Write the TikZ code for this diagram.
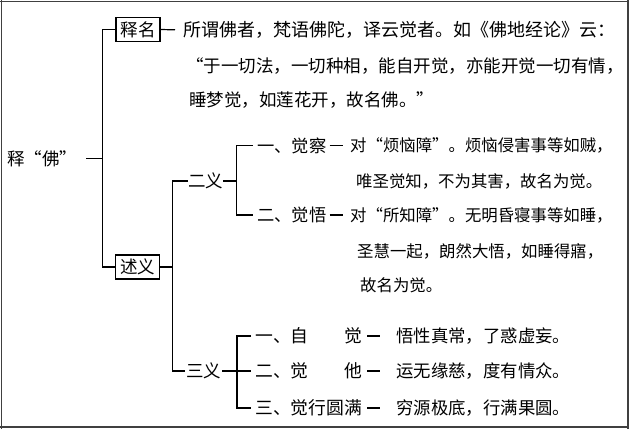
\documentclass[tikz,border=0pt]{standalone}
\usepackage{fontspec}
\newfontfamily\cjk{Noto Sans CJK SC}
\begin{document}
\begin{tikzpicture}[x=1pt,y=-1pt,
  txt/.style={font=\cjk\fontsize{17.5}{20}\selectfont, inner sep=0pt, anchor=west},
  bigtxt/.style={txt, font=\cjk\fontsize{18}{20}\selectfont},
  midtxt/.style={txt, font=\cjk\fontsize{16.4}{20}\selectfont},
  lowtxt/.style={txt, font=\cjk\fontsize{17.4}{20}\selectfont},
  lbl3/.style={txt, font=\cjk\fontsize{17.8}{20}\selectfont},
  boxed/.style={txt, anchor=center, draw, line width=1.1pt, minimum width=44pt, minimum height=24pt},
  br/.style={line width=1.2pt, black},
  frameline/.style={black!75}]
\useasboundingbox (0,0) rectangle (630,429);
% frame
\draw[frameline, line width=1pt] (0,1) -- (629,1);
\draw[frameline, line width=1pt] (1,0) -- (1,429);
\draw[frameline, line width=2.3pt] (627.8,0) -- (627.8,429);
\draw[frameline, line width=2.3pt] (0,427.2) -- (629,427.2);

% root
\node[txt] (fo) at (7,159) {释“佛”};
\coordinate (fd) at (86,158.5);
\coordinate (m1) at (102.8,30);

% level 1
\node[boxed] (shiming) at (138,29.5) {释名};
\node[boxed] (shuyi) at (137.5,267) {述义};
\draw[br] (fd) -- (fd -| m1);
\draw[br] (shiming.west) -- (shiming.west -| m1) -- (shuyi.west -| m1) -- (shuyi.west);

% 释名 text
\node[bigtxt] (r1) at (183,30) {所谓佛者，梵语佛陀，译云觉者。如《佛地经论》云：};
\node[txt] (r2) at (186,66) {“于一切法，一切种相，能自开觉，亦能开觉一切有情，};
\node[txt] (r3) at (189,100.5) {睡梦觉，如莲花开，故名佛。”};
\draw[br, shorten >=8pt] (shiming.east) -- (r1.west);

% level 2
\coordinate (s1) at (172.5,181);
\node[txt] (eryi) at (188,181) {二义};
\node[txt] (sanyi) at (186,371) {三义};
\draw[br] (shuyi.east) -- (shuyi.east -| s1);
\draw[br, shorten >=1pt] (eryi.west) -- (s1) -- (sanyi.west -| s1) -- (sanyi.west);

% 二义 items
\coordinate (e1) at (236.5,145);
\node[txt, font=\cjk\fontsize{17.3}{20}\selectfont] (jc) at (257,145.5) {一、觉察};
\node[txt, font=\cjk\fontsize{17.3}{20}\selectfont] (jw) at (257,215) {二、觉悟};
\draw[br] (eryi.east) -- (eryi.east -| e1);
\draw[br, shorten <=4pt, shorten >=4pt] (jc.west) -- (jc.west -| e1) -- (jw.west -| e1) -- (jw.west);
\node[midtxt] (t1) at (350,145.5) {对“烦恼障”。烦恼侵害事等如贼，};
\node[midtxt] (t1b) at (356,181) {唯圣觉知，不为其害，故名为觉。};
\node[midtxt] (t2) at (350,215) {对“所知障”。无明昏寝事等如睡，};
\node[midtxt] (t2b) at (357,251) {圣慧一起，朗然大悟，如睡得寤，};
\node[midtxt] (t2c) at (360,285) {故名为觉。};
\draw[br, shorten <=3pt, shorten >=7pt] (jc.east) -- (t1.west);
\draw[br, shorten <=3pt, shorten >=7pt] (jw.east) -- (t2.west);

% 三义 items
\coordinate (f1) at (237,336);
\node[lbl3] (z1) at (255,336) {一、自　　觉};
\node[lbl3] (z2) at (255,371) {二、觉　　他};
\node[lbl3] (z3) at (255,408) {三、觉行圆满};
\draw[br, shorten <=4pt, shorten >=4pt] (z1.west) -- (z1.west -| f1) -- (z3.west -| f1) -- (z3.west);
\draw[br, shorten <=1pt, shorten >=4pt] (sanyi.east) -- (z2.west);
\node[lowtxt] (w1) at (396,336) {悟性真常，了惑虚妄。};
\node[lowtxt] (w2) at (396,371) {运无缘慈，度有情众。};
\node[lowtxt] (w3) at (396,408) {穷源极底，行满果圆。};
\draw[br, shorten <=5pt, shorten >=16pt] (z1.east) -- (w1.west);
\draw[br, shorten <=5pt, shorten >=16pt] (z2.east) -- (w2.west);
\draw[br, shorten <=5pt, shorten >=16pt] (z3.east) -- (w3.west);
\end{tikzpicture}
\end{document}
